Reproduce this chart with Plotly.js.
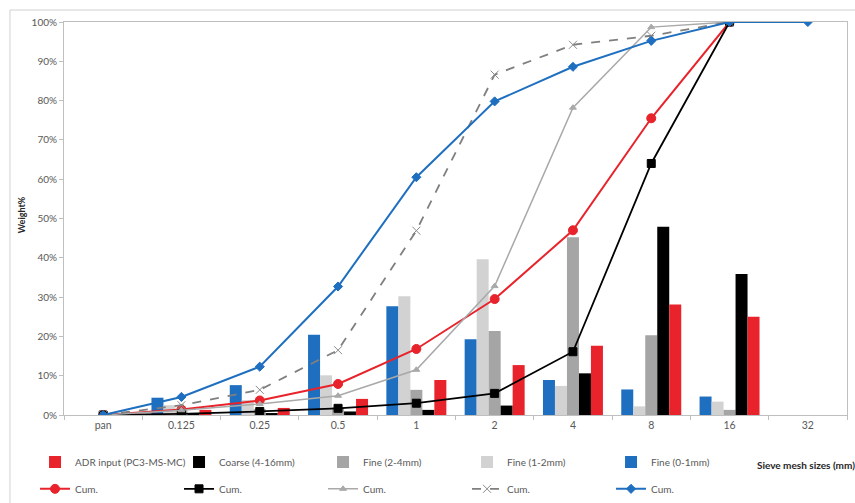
<!DOCTYPE html>
<html>
<head>
<meta charset="utf-8">
<script src="https://cdn.plot.ly/plotly-3.0.1.min.js"></script>
<style>
  html, body { margin: 0; padding: 0; background: #ffffff; }
  #chart { width: 855px; height: 503px; }
</style>
</head>
<body>
<div id="chart"></div>
<script>
// Sieve mesh size categories
const categories = ['pan', '0.125', '0.25', '0.5', '1', '2', '4', '8', '16', '32'];

// Weight% retained per sieve (bars)
const fine01 = [0, 4.4, 7.6, 20.4, 27.7, 19.3, 8.9, 6.5, 4.7, 0];
const fine12 = [0, 2.5, 3.8, 10.1, 30.2, 39.6, 7.4, 2.2, 3.4, 0];
const fine24 = [0, 1.2, 1.5, 2.0, 6.4, 21.4, 45.2, 20.3, 1.3, 0];
const coarse = [0, 0.3, 0.5, 0.9, 1.3, 2.4, 10.6, 47.9, 35.9, 0];
const adr    = [0, 1.3, 1.8, 4.1, 8.9, 12.7, 17.6, 28.1, 25.0, 0];

// Cumulative weight% (lines)
const cumFine01 = [0, 4.6, 12.3, 32.7, 60.5, 79.8, 88.6, 95.2, 100, 100];
const cumFine12 = [0, 2.5, 6.4, 16.5, 46.9, 86.6, 94.2, 96.5, 100, null];
const cumFine24 = [0, 1.2, 2.8, 4.9, 11.5, 32.8, 78.2, 98.7, 100, null];
const cumCoarse = [0, 0.3, 0.9, 1.7, 3.0, 5.5, 16.1, 64.0, 100, null];
const cumAdr    = [0, 1.4, 3.7, 7.9, 16.8, 29.5, 47.0, 75.5, 100, null];

// Legend labels
const barNames = {
  adr: 'ADR input (PC3-MS-MC)',
  coarse: 'Coarse (4-16mm)',
  fine24: 'Fine (2-4mm)',
  fine12: 'Fine (1-2mm)',
  fine01: 'Fine (0-1mm)'
};
const cumName = 'Cum.';

const COL = {
  blue: '#1e6fc0',
  lgray: '#d2d2d2',
  gray: '#a5a5a5',
  black: '#000000',
  red: '#e8232b',
  dashed: '#7f7f7f',
  grayLine: '#a9a9a9'
};

function bar(y, name, color, rank) {
  return { type: 'bar', x: categories, y: y, name: name, marker: { color: color },
           legend: 'legend', legendrank: rank, hoverinfo: 'skip' };
}
function cum(y, color, width, dash, sym, size, rank, mcolor) {
  return { type: 'scatter', mode: 'lines+markers', x: categories, y: y, name: cumName,
           line: { color: color, width: width, dash: dash },
           marker: { symbol: sym, size: size, color: mcolor || color, line: { color: mcolor || color, width: 1 } },
           legend: 'legend2', legendrank: rank, connectgaps: false, hoverinfo: 'skip' };
}

const data = [
  bar(fine01, barNames.fine01, COL.blue, 5),
  bar(fine12, barNames.fine12, COL.lgray, 4),
  bar(fine24, barNames.fine24, COL.gray, 3),
  bar(coarse, barNames.coarse, COL.black, 2),
  bar(adr, barNames.adr, COL.red, 1),
  cum(cumAdr, COL.red, 2, 'solid', 'circle', 9, 1),
  cum(cumCoarse, COL.black, 1.8, 'solid', 'square', 8, 2),
  cum(cumFine24, COL.grayLine, 1.5, 'solid', 'triangle-up', 6, 3),
  cum(cumFine12, COL.dashed, 1.8, 'dash', 'x-thin-open', 8, 4, '#8a8a8a'),
  cum(cumFine01, COL.blue, 2, 'solid', 'diamond', 7, 5)
];

const FONT = 'Lato, "Open Sans", "Liberation Sans", sans-serif';
const legendCommon = {
  orientation: 'h', xref: 'paper', yref: 'paper', xanchor: 'left', yanchor: 'top',
  entrywidth: 99, entrywidthmode: 'pixels', traceorder: 'normal',
  font: { family: FONT, size: 10, color: '#595959' }, bgcolor: 'rgba(0,0,0,0)', borderwidth: 0
};

const layout = {
  width: 855, height: 503,
  margin: { l: 64, r: 8, t: 22, b: 88, autoexpand: false },
  paper_bgcolor: '#ffffff', plot_bgcolor: '#ffffff',
  font: { family: FONT, size: 10, color: '#595959' },
  barmode: 'group', bargap: 0.234, bargroupgap: 0,
  showlegend: true,
  legend: Object.assign({}, legendCommon, { x: -0.037, y: -0.083 }),
  legend2: Object.assign({}, legendCommon, { x: -0.037, y: -0.151 }),
  xaxis: {
    type: 'category', range: [-0.5, 9.5], fixedrange: true,
    showline: true, linecolor: '#bfbfbf', linewidth: 1, mirror: true,
    ticks: 'outside', tickson: 'boundaries', ticklen: 4, tickcolor: '#bfbfbf',
    showgrid: false, zeroline: false,
    tickfont: { family: FONT, size: 10.5, color: '#595959' }
  },
  yaxis: {
    range: [0, 100], dtick: 10, ticksuffix: '%', fixedrange: true,
    showline: true, linecolor: '#bfbfbf', linewidth: 1, mirror: true,
    ticks: 'outside', ticklen: 4, tickcolor: '#bfbfbf',
    showgrid: false, zeroline: false,
    tickfont: { family: FONT, size: 10, color: '#595959' }
  },
  annotations: [
    { text: '<b>Weight%</b>', xref: 'paper', yref: 'paper', x: -0.054, y: 0.51,
      textangle: -90, showarrow: false, xanchor: 'center', yanchor: 'middle',
      font: { family: FONT, size: 9, color: '#262626' } },
    { text: '<b>Sieve mesh sizes (mm)</b>', xref: 'paper', yref: 'paper', x: 0.8825, y: -0.127,
      showarrow: false, xanchor: 'left', yanchor: 'middle',
      font: { family: FONT, size: 10, color: '#262626' } }
  ],
  shapes: [
    { type: 'rect', xref: 'paper', yref: 'paper', x0: -0.069, x1: 1.3, y0: -0.5, y1: 1.0305,
      line: { color: '#d0d0d0', width: 1 }, fillcolor: 'rgba(0,0,0,0)', layer: 'below' }
  ]
};

Plotly.newPlot('chart', data, layout, { staticPlot: true, displayModeBar: false });
</script>
</body>
</html>
